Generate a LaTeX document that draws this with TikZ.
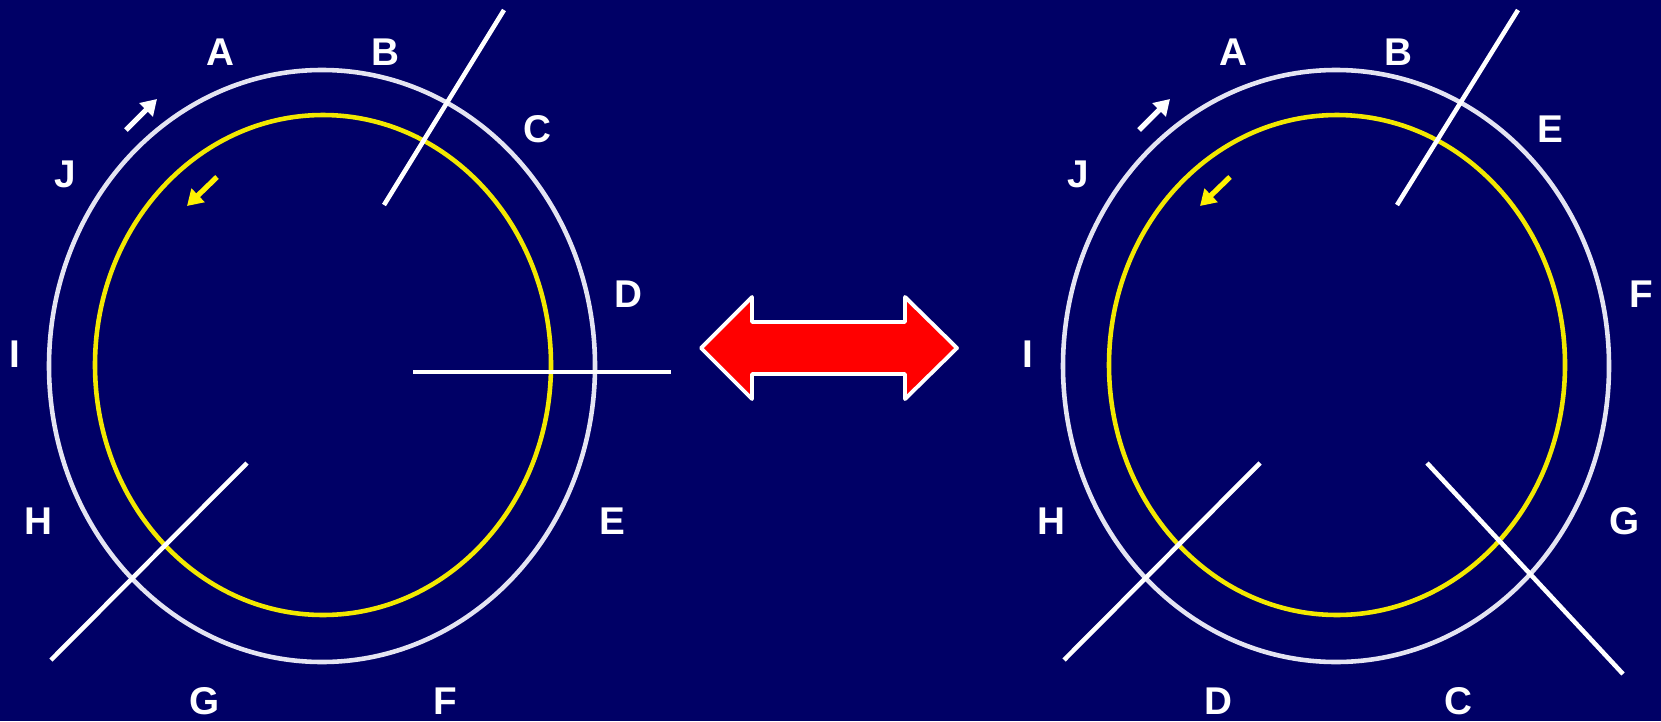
\documentclass[tikz,border=0pt]{standalone}
\usepackage{fontspec}
\setmainfont{Liberation Sans}
\usetikzlibrary{arrows.meta}
\definecolor{navy}{RGB}{0,0,102}
\definecolor{ringwhite}{RGB}{228,228,242}
\definecolor{ringyellow}{RGB}{242,232,0}

\begin{document}
\begin{tikzpicture}[x=0.01cm,y=-0.01cm,
    lbl/.style={text=white,font=\fontsize{11}{13}\selectfont\bfseries,inner sep=0pt},
    spoke/.style={draw=white,line width=1.3pt},
    outerring/.style={draw=ringwhite,line width=1.3pt},
    innerring/.style={draw=ringyellow,line width=1.3pt},
    turn/.style={line width=1.5pt,-{Triangle[length=4.4pt,width=5.2pt]}}]
  \fill[navy] (0,0) rectangle (1661,721);
  % left rotor
  \draw[outerring] (322,366) ellipse (273 and 296);
  \draw[innerring] (323,365) ellipse (228 and 250);
  \foreach \n/\x/\y in {A/220/52,B/385/52,C/537/129,D/628/294,E/612/521,F/445/701,G/205/701,H/38/521,I/15/354,J/65/174}
    {\node[lbl] (l\n) at (\x,\y) {\n};}
  \coordinate (lsa) at (384,205);\coordinate (lsb) at (504,10);
  \coordinate (lta) at (413,372);\coordinate (ltb) at (671,372);
  \coordinate (lua) at (247,463);\coordinate (lub) at (51,660);
  \draw[spoke] (lsa) -- (lsb);\draw[spoke] (lta) -- (ltb);\draw[spoke] (lua) -- (lub);
  \coordinate (lwa) at (126,130);\coordinate (lwb) at (157,99);
  \coordinate (lya) at (217,177);\coordinate (lyb) at (187,206);
  \draw[turn,white] (lwa) -- (lwb);\draw[turn,yellow] (lya) -- (lyb);
  % swap arrow
  \filldraw[fill=red,draw=white,line width=1.1pt,line join=round]
    (701,348) -- (752,297) -- (752,322) -- (905,322) -- (905,297) -- (957,348)
    -- (905,399) -- (905,374) -- (752,374) -- (752,399) -- cycle;
  % right rotor
  \draw[outerring] (1336,366) ellipse (273 and 296);
  \draw[innerring] (1337,365) ellipse (228 and 250);
  \foreach \n/\x/\y in {A/1233/52,B/1398/52,E/1550/129,F/1641/294,G/1625/521,C/1458/701,D/1218/701,H/1051/521,I/1028/354,J/1078/174}
    {\node[lbl] (r\n) at (\x,\y) {\n};}
  \coordinate (rsa) at (1397,205);\coordinate (rsb) at (1518,10);
  \coordinate (rta) at (1427,463);\coordinate (rtb) at (1623,674);
  \coordinate (rua) at (1260,463);\coordinate (rub) at (1064,660);
  \draw[spoke] (rsa) -- (rsb);\draw[spoke] (rta) -- (rtb);\draw[spoke] (rua) -- (rub);
  \coordinate (rwa) at (1139,130);\coordinate (rwb) at (1170,99);
  \coordinate (rya) at (1230,177);\coordinate (ryb) at (1200,206);
  \draw[turn,white] (rwa) -- (rwb);\draw[turn,yellow] (rya) -- (ryb);
\end{tikzpicture}
\end{document}
